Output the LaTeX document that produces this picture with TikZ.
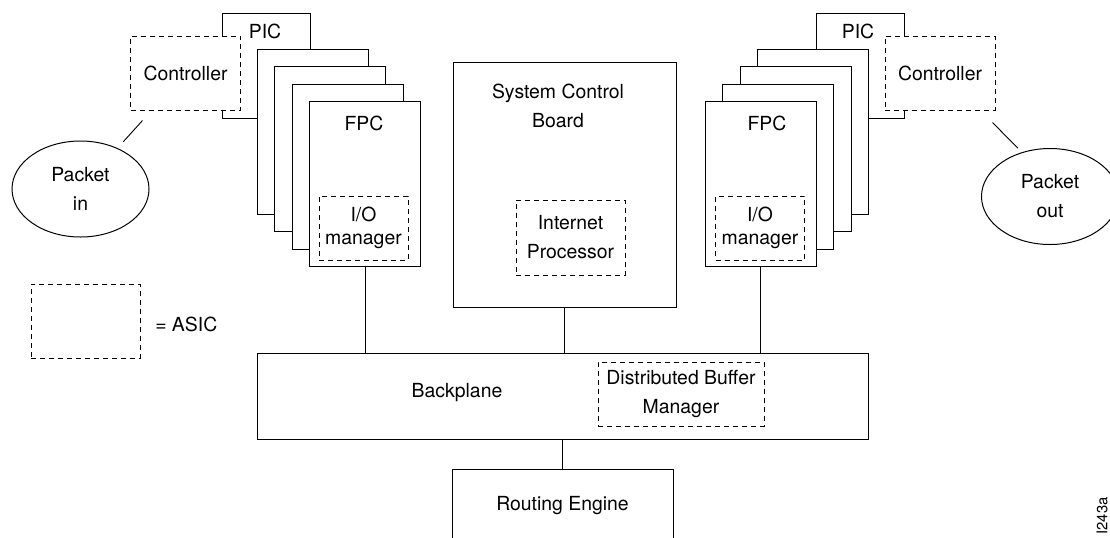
\documentclass[tikz,border=0pt]{standalone}
\usepackage{fontspec}
\setmainfont{TeX Gyre Heros}
\usepackage{tikz}
\usetikzlibrary{positioning,shapes.geometric}

\begin{document}
\begin{tikzpicture}[x=0.5pt, y=-0.5pt, line width=0.5pt,
        font=\fontsize{9.7}{14.5}\selectfont,
        box/.style={draw, fill=white, inner sep=0pt, align=center},
        card/.style={box, minimum width=55.5pt, minimum height=82.5pt},
        asic/.style={draw, fill=white, dash pattern=on 2.5pt off 2pt, inner sep=0pt, align=center},
        packet/.style={draw, ellipse, minimum width=68.5pt, minimum height=48pt, inner sep=0pt, align=center},
        wire/.style={line width=0.45pt}]
        \useasboundingbox (0,0) rectangle (1110,537);

        % left side: PIC, controller and FPC stack
        \node[box, minimum width=44pt, minimum height=52.5pt] (picL) at (266,65.5) {};
        \node (picLtxt) at (265,31) {PIC};
        \node[asic, minimum width=55pt, minimum height=37pt] (ctrlL) at (185.5,73) {Controller};
        \node[card] (L1) at (312.5,131.5) {};
        \node[card] (L2) at (330,149) {};
        \node[card] (L3) at (347.5,166.5) {};
        \node[card] (L4) at (365,184) {};
        \node (fpcLtxt) at (364,123) {FPC};
        \node[asic, minimum width=44.5pt, minimum height=32pt, font=\fontsize{9.7}{11.5}\selectfont] (ioL) at (363.5,228) {I/O\\manager};
        \node[packet] (pktin) at (80.5,189) {Packet\\in};

        % right side: PIC, controller and FPC stack
        \node[box, minimum width=44pt, minimum height=52.5pt] (picR) at (860.5,65.5) {};
        \node (picRtxt) at (858,31) {PIC};
        \node[asic, minimum width=55pt, minimum height=37pt] (ctrlR) at (940,73) {Controller};
        \node[card] (R1) at (813,131.5) {};
        \node[card] (R2) at (795.5,149) {};
        \node[card] (R3) at (778,166.5) {};
        \node[card] (R4) at (760.5,184) {};
        \node (fpcRtxt) at (767,123) {FPC};
        \node[asic, minimum width=44.5pt, minimum height=32pt, font=\fontsize{9.7}{11.5}\selectfont] (ioR) at (760,228) {I/O\\manager};
        \node[packet] (pktout) at (1050,196.5) {Packet\\out};

        % system control board
        \node[box, minimum width=111.5pt, minimum height=122.5pt] (scb) at (564.5,184.5) {};
        \node[align=center] (scbtxt) at (558,106) {System Control\\Board};
        \node[asic, minimum width=54.5pt, minimum height=37.5pt] (ip) at (570.5,237.5) {Internet\\Processor};

        % backplane and routing engine
        \node[box, minimum width=305.5pt, minimum height=43pt] (bp) at (562.5,396) {};
        \node (bptxt) at (457,393) {Backplane};
        \node[asic, minimum width=83pt, minimum height=32pt] (dbm) at (681,394) {Distributed Buffer\\Manager};
        \node[box, minimum width=110.5pt, minimum height=37pt, below=14.5pt of bp] (re) {Routing Engine};

        % legend
        \node[asic, minimum width=54.5pt, minimum height=37pt] (legend) at (85.5,321) {};
        \node[right=3.8pt of legend, yshift=-1.5pt] (legendtxt) {= ASIC};
        \node[rotate=90, font=\fontsize{7.4}{9}\selectfont] (figid) at (1102,516) {I243a};

        \draw[wire] (L4.south) -- (L4.south |- bp.north);
        \draw[wire] (R4.south) -- (R4.south |- bp.north);
        \draw[wire] (scb.south) -- (scb.south |- bp.north);
        \draw[wire] (bp.south) -- (re.north);
        \draw[wire, shorten <=6.75pt, shorten >=4.35pt] (ctrlL) -- (pktin);
        \draw[wire] ([xshift=-1.5pt, yshift=-6pt]ctrlR.south east) -- ([xshift=-0.85pt, yshift=2.4pt]pktout.125);
    \end{tikzpicture}
\end{document}
